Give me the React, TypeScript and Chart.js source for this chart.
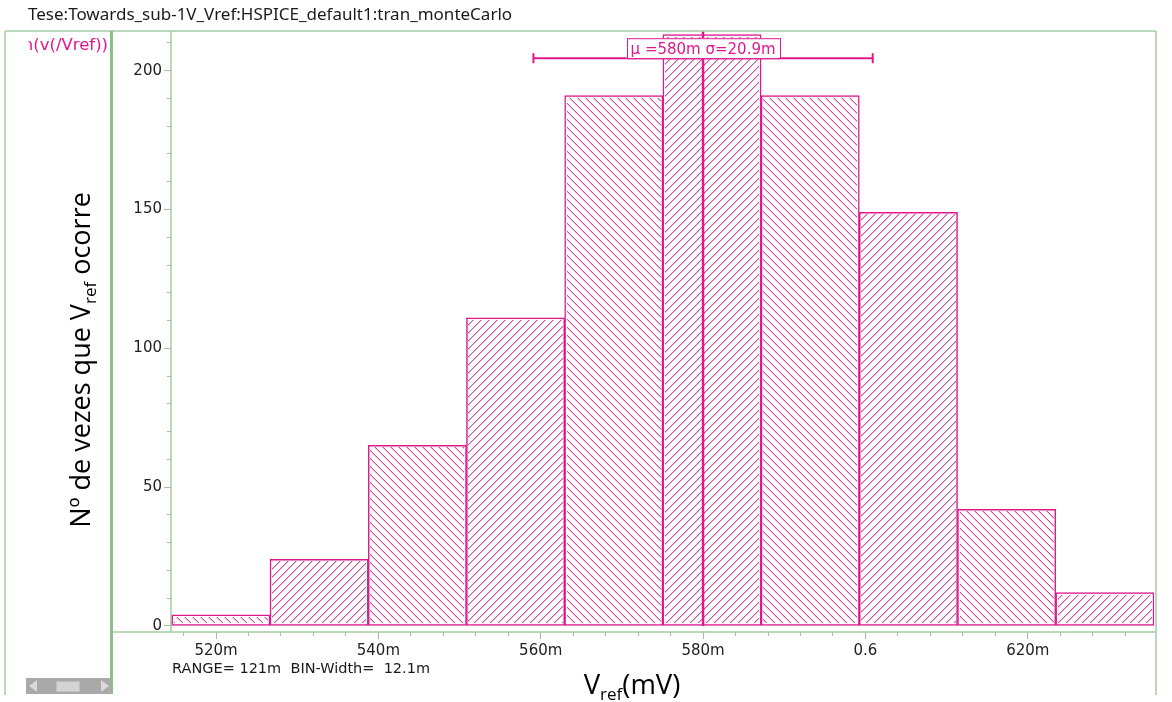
import React, { useEffect, useRef } from 'react';
import { Chart, registerables } from 'chart.js';

Chart.register(...registerables);

// ---------- data ----------
const windowTitle = 'Tese:Towards_sub-1V_Vref:HSPICE_default1:tran_monteCarlo';
const traceName = 'n(v(/Vref))';
const binStart = 514.55; // mV
const binWidth = 12.1; // mV
const counts = [4, 24, 65, 111, 191, 213, 191, 149, 42, 12];
const hatchDirs = ['back', 'fwd', 'back', 'fwd', 'back', 'fwd', 'back', 'fwd', 'back', 'fwd'];
const meanV = 580;
const sigmaV = 20.9;
const statsLabel = 'μ =580m σ=20.9m';
const infoLabel = 'RANGE= 121m  BIN-Width=  12.1m';
const xTickValues = [516, 520, 524, 528, 532, 536, 540, 544, 548, 552, 556, 560, 564, 568, 572, 576, 580, 584, 588, 592, 596, 600, 604, 608, 612, 616, 620, 624, 628, 632];
const xTickLabels: Record<number, string> = { 520: '520m', 540: '540m', 560: '560m', 580: '580m', 600: '0.6', 620: '620m' };
const yTickValues = [0, 10, 20, 30, 40, 50, 60, 70, 80, 90, 100, 110, 120, 130, 140, 150, 160, 170, 180, 190, 200, 210];
const yTickLabels: Record<number, string> = { 0: '0', 50: '50', 100: '100', 150: '150', 200: '200' };
const xMin = 514.45;
const xMax = 635.8;
const yMin = -2.2;
const yMax = 214.3;
const errorBarLevel = 204.5;
const meanLineTop = 214;
const yTitleMain = 'Nº de vezes que V';
const yTitleSub = 'ref';
const yTitleEnd = ' ocorre';
const xTitleMain = 'V';
const xTitleSub = 'ref';
const xTitleEnd = '(mV)';

// ---------- styles ----------
const MAGENTA = '#e0178d';
const HATCH = '#d94ca4';
const HATCH_SOFT = '#f0b9da';
const HATCH_STEP = 8;
const GREEN = '#a5cca5';
const GREEN_DARK = '#8dbd8d';
const TICK_FONT = 'DejaVu Sans';

function mod(a: number, n: number) {
  return ((a % n) + n) % n;
}

function drawSubText(
  ctx: CanvasRenderingContext2D,
  main: string,
  sub: string,
  end: string,
  size: number,
  family: string
) {
  const mainFont = `${size}px "${family}"`;
  const subFont = `${Math.round(size * 0.62)}px "${family}"`;
  ctx.font = mainFont;
  const w1 = ctx.measureText(main).width;
  const w3 = ctx.measureText(end).width;
  ctx.font = subFont;
  const w2 = ctx.measureText(sub).width;
  const total = w1 + w2 + w3;
  let x = -total / 2;
  ctx.textAlign = 'left';
  ctx.textBaseline = 'alphabetic';
  ctx.font = mainFont;
  ctx.fillText(main, x, 0);
  x += w1;
  ctx.font = subFont;
  ctx.fillText(sub, x, size * 0.22);
  x += w2;
  ctx.font = mainFont;
  ctx.fillText(end, x, 0);
}

// pixel-exact diagonal hatching inside each bar drawn by Chart.js
const hatchPlugin = {
  id: 'hatch',
  afterDatasetDraw(chart: any, args: any) {
    if (args.index !== 0) return;
    const { ctx } = chart;
    const meta = chart.getDatasetMeta(0);
    ctx.save();
    const passes: [string, number][] = [
      [HATCH_SOFT, 1],
      [HATCH, 0],
    ];
    passes.forEach(([color, shift]) => {
      ctx.fillStyle = color;
      meta.data.forEach((bar: any, i: number) => {
        const p = bar.getProps(['x', 'y', 'base', 'width'], true);
        const bw = 1.5;
        const x0 = Math.ceil(p.x - p.width / 2 + bw);
        const x1 = Math.floor(p.x + p.width / 2 - bw);
        const y0 = Math.ceil(Math.min(p.y, p.base) + bw);
        const y1 = Math.floor(Math.max(p.y, p.base) - bw);
        const fwd = hatchDirs[i % hatchDirs.length] === 'fwd';
        for (let x = x0; x < x1; x++) {
          const first = fwd
            ? y0 + mod(-(x + y0) + shift, HATCH_STEP)
            : y0 + mod(x - y0 + shift, HATCH_STEP);
          for (let y = first; y < y1; y += HATCH_STEP) {
            ctx.fillRect(x, y, 1, 1);
          }
        }
      });
    });
    ctx.restore();
  },
};

const decorPlugin = {
  id: 'decor',
  beforeDraw(chart: any) {
    const { ctx, chartArea } = chart;
    const { left, right, top, bottom } = chartArea;
    ctx.save();
    ctx.fillStyle = '#ffffff';
    ctx.fillRect(0, 0, chart.width, chart.height);

    // window title
    ctx.fillStyle = '#1a1a1a';
    ctx.font = '17px "Noto Sans"';
    ctx.textAlign = 'left';
    ctx.textBaseline = 'alphabetic';
    ctx.fillText(windowTitle, 28, 20);

    // frame lines
    ctx.strokeStyle = GREEN;
    ctx.lineWidth = 1.5;
    ctx.beginPath();
    ctx.moveTo(5, top);
    ctx.lineTo(right, top);
    ctx.moveTo(left, top);
    ctx.lineTo(left, bottom);
    ctx.moveTo(113, bottom);
    ctx.lineTo(right, bottom);
    ctx.moveTo(right, top);
    ctx.lineTo(right, 695);
    ctx.moveTo(5, top);
    ctx.lineTo(5, 695);
    ctx.stroke();
    ctx.strokeStyle = GREEN_DARK;
    ctx.lineWidth = 3;
    ctx.beginPath();
    ctx.moveTo(111.5, top);
    ctx.lineTo(111.5, 694);
    ctx.stroke();
    ctx.restore();
  },
  afterDatasetsDraw(chart: any) {
    const { ctx, scales } = chart;
    const xs = scales.x;
    const ys = scales.y;
    const cx = xs.getPixelForValue(meanV);
    const by = ys.getPixelForValue(errorBarLevel);
    ctx.save();
    ctx.font = `15px "${TICK_FONT}"`;
    const tw = ctx.measureText(statsLabel).width;
    const bw = tw + 8;
    const bh = 20;
    ctx.fillStyle = '#ffffff';
    ctx.fillRect(cx - bw / 2, by - bh, bw, bh);
    ctx.strokeStyle = MAGENTA;
    ctx.lineWidth = 1;
    ctx.strokeRect(Math.round(cx - bw / 2) + 0.5, by - bh + 0.5, Math.round(bw), bh);
    ctx.fillStyle = MAGENTA;
    ctx.textAlign = 'center';
    ctx.textBaseline = 'alphabetic';
    ctx.fillText(statsLabel, cx, by - 4);
    ctx.restore();
  },
  afterDraw(chart: any) {
    const { ctx } = chart;
    ctx.save();
    // y title
    ctx.fillStyle = '#000000';
    ctx.save();
    ctx.translate(90, 360);
    ctx.rotate(-Math.PI / 2);
    drawSubText(ctx, yTitleMain, yTitleSub, yTitleEnd, 27, 'Open Sans');
    ctx.restore();
    // x title
    ctx.save();
    ctx.translate(632, 694);
    drawSubText(ctx, xTitleMain, xTitleSub, xTitleEnd, 27.5, 'Open Sans');
    ctx.restore();

    // range info
    ctx.fillStyle = '#1a1a1a';
    ctx.font = `14.5px "${TICK_FONT}"`;
    ctx.textAlign = 'left';
    ctx.textBaseline = 'alphabetic';
    ctx.fillText(infoLabel, 172, 673);

    // trace name, clipped in left panel
    ctx.font = `16.5px "${TICK_FONT}"`;
    const restW = ctx.measureText(traceName.slice(1)).width;
    const nW = ctx.measureText(traceName.slice(0, 1)).width;
    ctx.save();
    ctx.beginPath();
    ctx.rect(108 - restW - nW * 0.45, 33, restW + nW, 22);
    ctx.clip();
    ctx.fillStyle = MAGENTA;
    ctx.textAlign = 'right';
    ctx.fillText(traceName, 108, 50);
    ctx.restore();

    // scrollbar
    ctx.fillStyle = '#a9a9a9';
    ctx.fillRect(26, 678, 85, 16);
    ctx.fillStyle = '#d9d9d9';
    ctx.beginPath();
    ctx.moveTo(29, 686);
    ctx.lineTo(37, 680);
    ctx.lineTo(37, 692);
    ctx.closePath();
    ctx.fill();
    ctx.beginPath();
    ctx.moveTo(109, 686);
    ctx.lineTo(101, 680);
    ctx.lineTo(101, 692);
    ctx.closePath();
    ctx.fill();
    ctx.fillStyle = '#d4d4d4';
    ctx.fillRect(56, 681, 24, 11);
    ctx.strokeStyle = '#bdbdbd';
    ctx.lineWidth = 1;
    ctx.strokeRect(56.5, 681.5, 23, 10);
    ctx.restore();
  },
};

export default function App() {
  const ref = useRef<HTMLCanvasElement>(null);
  useEffect(() => {
    document.body.style.margin = '0';
    const canvas = ref.current;
    if (!canvas) return;
    Chart.defaults.font.family = TICK_FONT;

    const centers = counts.map((_, i) => binStart + binWidth * (i + 0.5));

    const chart = new Chart(canvas, {
      type: 'bar',
      data: {
        datasets: [
          {
            type: 'bar',
            label: 'histogram',
            data: centers.map((c, i) => ({ x: c, y: counts[i] })),
            backgroundColor: '#ffffff',
            borderColor: MAGENTA,
            borderWidth: 1.5,
            borderSkipped: false,
            barThickness: 'flex',
            barPercentage: 1,
            categoryPercentage: 1,
            order: 3,
          } as any,
          {
            type: 'line',
            label: 'mean',
            data: [
              { x: meanV, y: 0 },
              { x: meanV, y: meanLineTop },
            ],
            borderColor: MAGENTA,
            borderWidth: 2.5,
            pointRadius: 0,
            order: 1,
          } as any,
          {
            type: 'line',
            label: 'sigma',
            data: [
              { x: meanV - sigmaV, y: errorBarLevel },
              { x: meanV + sigmaV, y: errorBarLevel },
            ],
            borderColor: MAGENTA,
            borderWidth: 2,
            pointStyle: 'line',
            pointRotation: 90,
            pointRadius: 5,
            pointBorderWidth: 2,
            pointBorderColor: MAGENTA,
            order: 0,
          } as any,
        ],
      },
      options: {
        animation: false,
        responsive: false,
        maintainAspectRatio: false,
        events: [],
        layout: { padding: { left: 0, top: 31, right: 16, bottom: 0 } },
        plugins: {
          legend: { display: false },
          tooltip: { enabled: false },
        },
        scales: {
          x: {
            type: 'linear',
            position: 'bottom',
            offset: false,
            min: xMin,
            max: xMax,
            bounds: 'data',
            afterBuildTicks: (s: any) => {
              s.ticks = xTickValues.map((v) => ({ value: v }));
            },
            afterFit: (s: any) => {
              s.height = 70;
            },
            ticks: {
              autoSkip: false,
              maxRotation: 0,
              padding: 3,
              color: '#222222',
              font: { size: 15, family: TICK_FONT },
              callback: (v: any) => xTickLabels[Math.round(Number(v))] ?? '',
            },
            grid: {
              offset: false,
              drawOnChartArea: false,
              drawTicks: true,
              tickLength: 7,
              tickColor: '#9cc39c',
              tickWidth: 1,
              tickBorderDash: (c: any) => (xTickLabels[Math.round(c.tick?.value)] ? [] : [4, 30]),
            } as any,
            border: { display: false },
          },
          y: {
            type: 'linear',
            position: 'left',
            min: yMin,
            max: yMax,
            bounds: 'data',
            afterBuildTicks: (s: any) => {
              s.ticks = yTickValues.map((v) => ({ value: v }));
            },
            afterFit: (s: any) => {
              s.width = 171;
            },
            ticks: {
              autoSkip: false,
              padding: 2,
              color: '#222222',
              font: { size: 15, family: TICK_FONT },
              callback: (v: any) => yTickLabels[Math.round(Number(v))] ?? '',
            },
            grid: {
              drawOnChartArea: false,
              drawTicks: true,
              tickLength: 7,
              tickColor: '#9cc39c',
              tickWidth: 1,
              tickBorderDash: (c: any) => (yTickLabels[Math.round(c.tick?.value)] !== undefined ? [] : [0, 3, 4, 30]),
            } as any,
            border: { display: false },
          },
        },
      } as any,
      plugins: [hatchPlugin as any, decorPlugin as any],
    });
    return () => chart.destroy();
  }, []);

  return (
    <div style={{ position: 'absolute', left: 0, top: 0, width: 1172, height: 702, background: '#fff' }}>
      <canvas ref={ref} width={1172} height={702} style={{ display: 'block', width: 1172, height: 702 }} />
    </div>
  );
}
